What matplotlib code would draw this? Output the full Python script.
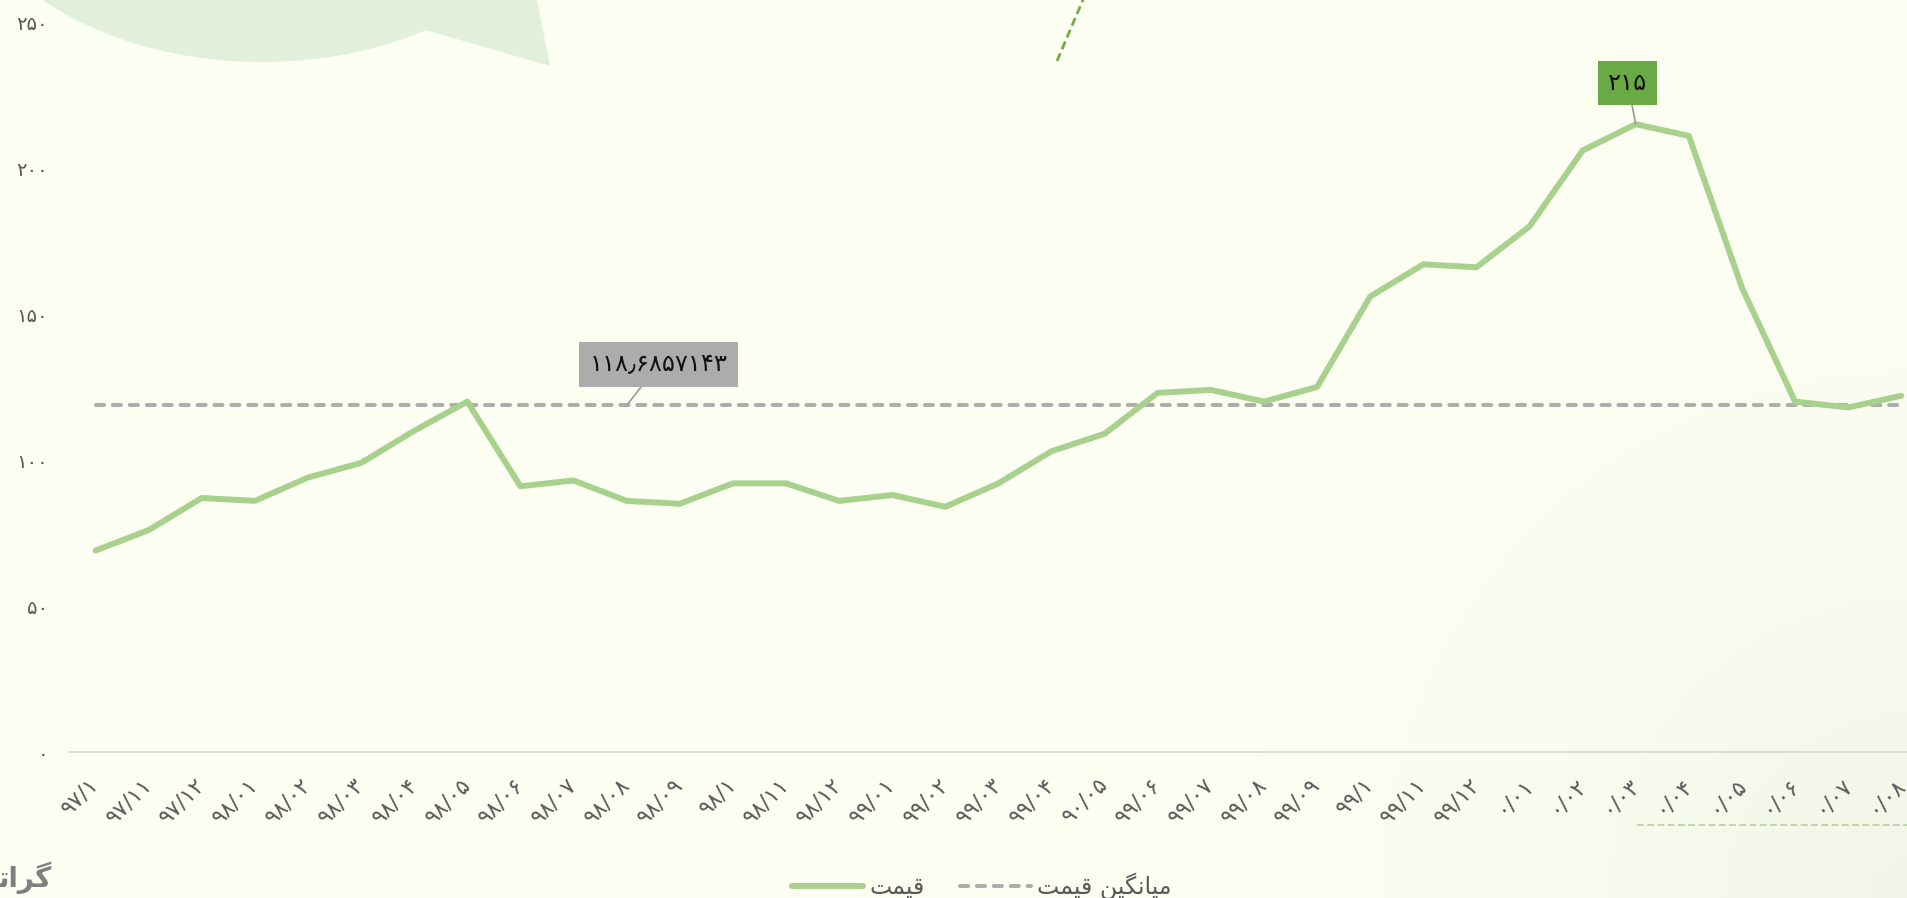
import numpy as np
import matplotlib
matplotlib.use("Agg")
import matplotlib.pyplot as plt
from matplotlib.patches import Polygon
from matplotlib.lines import Line2D

plt.rcParams['font.family'] = ['DejaVu Sans']

# ---------------- data ----------------
labels = ["97/1", "97/11", "97/12", "98/01", "98/02", "98/03", "98/04", "98/05",
          "98/06", "98/07", "98/08", "98/09", "98/1", "98/11", "98/12", "99/01",
          "99/02", "99/03", "99/04", "90/05", "99/06", "99/07", "99/08", "99/09",
          "99/1", "99/11", "99/12", "0/01", "0/02", "0/03", "0/04", "0/05",
          "0/06", "0/07", "0/08"]
prices = [69, 76, 87, 86, 94, 99, 110, 120, 91, 93, 86, 85, 92, 92, 86, 88,
          84, 92, 103, 109, 123, 124, 120, 125, 156, 167, 166, 180, 206, 215,
          211, 159, 120, 118, 122]
y_ticks = [0, 50, 100, 150, 200, 250]
series_price = "قیمت"
series_avg = "میانگین قیمت"
avg_label_index = 10

# ---------------- helpers ----------------
FA_DIGITS = str.maketrans("0123456789.", "۰۱۲۳۴۵۶۷۸۹٫")


def fa(s):
    return str(s).translate(FA_DIGITS)


# minimal Persian shaping (matplotlib has no complex text layout)
FORMS = {  # isolated, final, initial, medial
    'ق': ('\uFED5', '\uFED6', '\uFED7', '\uFED8'),
    'ی': ('\uFBFC', '\uFBFD', '\uFBFE', '\uFBFF'),
    'م': ('\uFEE1', '\uFEE2', '\uFEE3', '\uFEE4'),
    'ت': ('\uFE95', '\uFE96', '\uFE97', '\uFE98'),
    'ن': ('\uFEE5', '\uFEE6', '\uFEE7', '\uFEE8'),
    'گ': ('\uFB92', '\uFB93', '\uFB94', '\uFB95'),
    'ا': ('\uFE8D', '\uFE8E', None, None),
    'ر': ('\uFEAD', '\uFEAE', None, None),
}


def dual(c):
    return c in FORMS and FORMS[c][2] is not None


def shape(text):
    out = []
    for i, c in enumerate(text):
        if c not in FORMS:
            out.append(c)
            continue
        prev = text[i - 1] if i > 0 else ''
        nxt = text[i + 1] if i + 1 < len(text) else ''
        jp = dual(prev)
        jn = dual(c) and nxt in FORMS
        f = FORMS[c]
        if jp and jn:
            out.append(f[3])
        elif jp:
            out.append(f[1])
        elif jn:
            out.append(f[2])
        else:
            out.append(f[0])
    return ''.join(reversed(out))


# ---------------- style ----------------
BG = '#FDFEF2'
LINE_C = '#A9D18E'
AVG_C = '#ADADAD'
TXT_C = '#595959'
W, H = 1908, 898

fig = plt.figure(figsize=(W / 100, H / 100), dpi=100, facecolor=BG)

# background decorations
bg = fig.add_axes([0, 0, 1, 1], zorder=0)
bg.set_xlim(0, W)
bg.set_ylim(H, 0)
bg.axis('off')
yy, xx = np.mgrid[0:H, 0:W]
r = np.hypot(xx - W, yy - H)
alpha = np.clip(1 - r / 700, 0, 1) ** 1.6 * 0.45
img = np.zeros((H, W, 4))
img[..., 0], img[..., 1], img[..., 2] = 0.90, 0.91, 0.86
img[..., 3] = alpha
bg.imshow(img, extent=(0, W, H, 0), origin='upper', aspect='auto', zorder=0)

th = np.radians(np.linspace(136.4, 57.2, 80))
arc = np.column_stack([262 + 302.6 * np.cos(th), -138 + 200 * np.sin(th)])
blob = np.vstack([arc, [[550, 66], [536, -5], [40, -5]]])
bg.add_patch(Polygon(blob, closed=True, facecolor='#E2EFDA', edgecolor='none', zorder=1))
bg.add_line(Line2D([1057, 1085], [61, -5], color='#70AD47', lw=2, dashes=(3, 1.6), zorder=1))
bg.add_line(Line2D([1637, W], [825, 825], color=LINE_C, lw=1.1, dashes=(4.5, 2.2), zorder=1))
bg.text(-2, 878, '\uFE97\uFE8D\uFEAE\uFB94', fontsize=20, fontweight='bold',
        color='#7F7F7F', ha='left', va='center', zorder=1)

# main axes
x0, y0 = 69, 752
ax = fig.add_axes([x0 / W, (H - y0) / H, (W - x0) / W, 730 / H], zorder=2)
ax.set_facecolor('none')
n = len(prices)
step = 53.11
xs = np.arange(n)
avg = float(np.mean(prices))

ax.plot(xs, prices, color=LINE_C, lw=4.3, solid_capstyle='round',
        solid_joinstyle='round', zorder=3)
ax.plot(xs, [avg] * n, color=AVG_C, lw=2.9, dashes=(2, 2.2),
        dash_capstyle='round', zorder=2)

ax.set_xlim(-0.5, -0.5 + (W - x0) / step)
ax.set_ylim(0, 250)
ax.set_yticks(y_ticks)
ax.set_yticklabels([fa(v) for v in y_ticks], color=TXT_C, fontsize=14)
ax.set_xticks(xs)
ax.set_xticklabels([fa(l) for l in labels], rotation=45, ha='right', va='center',
                   rotation_mode='anchor', color=TXT_C, fontsize=16)
ax.tick_params(axis='y', length=0, pad=15)
ax.tick_params(axis='x', length=0, pad=21)
for s in ['top', 'right', 'left']:
    ax.spines[s].set_visible(False)
ax.spines['bottom'].set_color('#D9D9D9')
ax.spines['bottom'].set_linewidth(1.3)

# data labels
ax.annotate(fa(f"{avg:.7f}"), xy=(avg_label_index, avg), xytext=(23, 29.5),
            textcoords='offset points', ha='center', va='center', fontsize=17.5,
            color='#111111',
            bbox=dict(boxstyle='square,pad=0.42', fc='#ADABAB', ec='none'),
            arrowprops=dict(arrowstyle='-', color='#A0A0A0', lw=1.3,
                            shrinkA=0, shrinkB=0), zorder=5)
imax = int(np.argmax(prices))
ax.annotate(fa(prices[imax]), xy=(imax, prices[imax]), xytext=(-5.8, 29.5),
            textcoords='offset points', ha='center', va='center', fontsize=17.5,
            color='#111111',
            bbox=dict(boxstyle='square,pad=0.42', fc='#6AAA45', ec='none'),
            arrowprops=dict(arrowstyle='-', color='#A0A0A0', lw=1.3,
                            shrinkA=0, shrinkB=0), zorder=5)

# legend
h1 = Line2D([], [], color=LINE_C, lw=4.3, solid_capstyle='round')
h2 = Line2D([], [], color=AVG_C, lw=2.9, dashes=(2, 2.2), dash_capstyle='round')
leg = fig.legend([h1, h2], [shape(series_price), shape(series_avg)], loc='center',
                 bbox_to_anchor=(0.5145, 0.013), ncol=2, frameon=False,
                 fontsize=17, handlelength=3.0, handletextpad=0.25,
                 columnspacing=1.5)
for t in leg.get_texts():
    t.set_color(TXT_C)

fig.savefig('out.png', dpi=100, facecolor=BG)
